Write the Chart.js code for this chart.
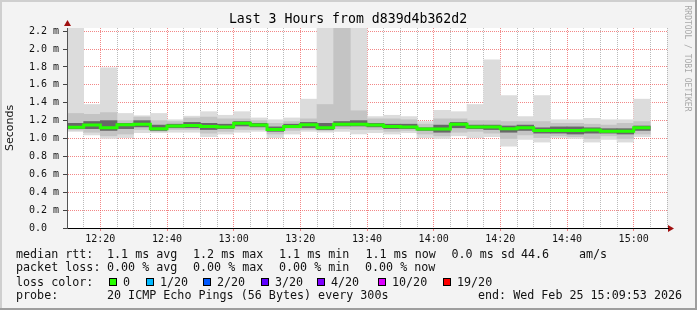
<!DOCTYPE html>
<html>
<head>
<meta charset="utf-8">
<script src="https://cdn.jsdelivr.net/npm/chart.js"></script>
<style>
  html, body { margin: 0; padding: 0; background: #f3f3f3; }
  canvas { display: block; }
</style>
</head>
<body>
<canvas id="smoke" width="697" height="310"></canvas>
<script>
// 5 minute slots (start time of each step)
const slots = ['12:10', '12:15', '12:20', '12:25', '12:30', '12:35', '12:40', '12:45', '12:50', '12:55',
  '13:00', '13:05', '13:10', '13:15', '13:20', '13:25', '13:30', '13:35', '13:40', '13:45',
  '13:50', '13:55', '14:00', '14:05', '14:10', '14:15', '14:20', '14:25', '14:30', '14:35',
  '14:40', '14:45', '14:50', '14:55', '15:00']

// rtt in ms (outer smoke -> inner smoke -> median)
const maxRtt = [2.6, 1.38, 1.79, 1.28, 1.255, 1.28, 1.21, 1.25, 1.30, 1.26, 1.30, 1.23, 1.21, 1.23, 1.44,
  2.6, 2.6, 2.6, 1.245, 1.26, 1.245, 1.19, 1.315, 1.30, 1.38, 1.88, 1.48, 1.245, 1.48, 1.21,
  1.21, 1.225, 1.21, 1.21, 1.44]
const hi2 = [1.28, 1.27, 1.29, 1.20, 1.24, 1.20, 1.19, 1.23, 1.24, 1.22, 1.22, 1.20, 1.17, 1.19, 1.22,
  1.38, 2.6, 1.31, 1.22, 1.22, 1.21, 1.16, 1.22, 1.22, 1.20, 1.20, 1.19, 1.19, 1.19, 1.17,
  1.17, 1.16, 1.15, 1.17, 1.19]
const hi3 = [1.17, 1.19, 1.20, 1.17, 1.20, 1.15, 1.16, 1.18, 1.17, 1.16, 1.19, 1.17, 1.13, 1.16, 1.18,
  1.17, 1.19, 1.20, 1.17, 1.16, 1.16, 1.12, 1.15, 1.18, 1.15, 1.15, 1.14, 1.15, 1.12, 1.13,
  1.13, 1.12, 1.11, 1.11, 1.14]
const median = [1.125, 1.15, 1.12, 1.155, 1.16, 1.11, 1.14, 1.145, 1.135, 1.13, 1.17, 1.15, 1.10, 1.135, 1.155,
  1.12, 1.16, 1.16, 1.15, 1.135, 1.13, 1.105, 1.105, 1.16, 1.13, 1.13, 1.11, 1.12, 1.09, 1.09,
  1.09, 1.095, 1.08, 1.08, 1.12]
const lo3 = [1.11, 1.11, 1.09, 1.11, 1.13, 1.09, 1.12, 1.12, 1.10, 1.11, 1.14, 1.13, 1.08, 1.12, 1.12,
  1.10, 1.14, 1.14, 1.13, 1.11, 1.11, 1.09, 1.07, 1.12, 1.11, 1.10, 1.07, 1.09, 1.06, 1.06,
  1.05, 1.06, 1.06, 1.05, 1.09]
const lo2 = [1.095, 1.07, 1.03, 1.05, 1.10, 1.08, 1.10, 1.10, 1.06, 1.08, 1.10, 1.10, 1.05, 1.09, 1.10,
  1.09, 1.11, 1.10, 1.10, 1.08, 1.09, 1.05, 1.03, 1.07, 1.08, 1.06, 1.00, 1.04, 1.01, 1.03,
  1.02, 1.00, 1.03, 1.00, 1.05]
const minRtt = [1.08, 1.04, 1.00, 1.01, 1.065, 1.065, 1.07, 1.07, 1.02, 1.05, 1.07, 1.08, 1.01, 1.05, 1.08,
  1.07, 1.08, 1.05, 1.065, 1.05, 1.065, 1.01, 1.00, 1.03, 1.01, 1.02, 0.915, 0.99, 0.96, 1.01,
  1.00, 0.96, 0.99, 0.96, 1.02]

// y axis ticks (ms), labelled every 0.2
const yTicks = [0, 0.2, 0.4, 0.6, 0.8, 1.0, 1.2, 1.4, 1.6, 1.8, 2.0, 2.2]

const lossColors = [
  ['0', '#26ff00'], ['1/20', '#00b8ff'], ['2/20', '#0059ff'], ['3/20', '#5e00ff'],
  ['4/20', '#7e00ff'], ['10/20', '#dd00ff'], ['19/20', '#ff0000'],
]

const toMin = t => { const [h, m] = t.split(':').map(Number); return h * 60 + m }
const t0 = toMin(slots[0])
const step = toMin(slots[1]) - t0
const xStart = i => toMin(slots[i]) - t0
const band = (lo, hi) => slots.map((s, i) => ({ x: xStart(i) + step / 2, y: [lo[i], hi[i]] }))
const medianPts = slots.map((s, i) => ({ x: xStart(i), y: median[i] }))
medianPts.push({ x: xStart(slots.length - 1) + step, y: median[median.length - 1] })

const MONO = 'DejaVu Sans Mono'
const MGRID = 'rgba(235, 70, 70, 0.65)'
const GRID = 'rgba(140, 140, 140, 0.6)'
const isMajorY = v => yTicks.some(t => Math.abs(t - v) < 1e-6)

const smokeBar = (data, color, order) => ({
  type: 'bar', data, order,
  backgroundColor: color, borderWidth: 0, borderSkipped: false,
  grouped: false, barPercentage: 1, categoryPercentage: 1,
})

// background, frame and all the rrdtool text
const rrdDecor = {
  id: 'rrdDecor',
  beforeDraw(chart) {
    const { ctx, chartArea: a, width: w, height: h } = chart
    ctx.save()
    ctx.fillStyle = '#f3f3f3'
    ctx.fillRect(0, 0, w, h)
    ctx.fillStyle = '#cfcfcf'
    ctx.fillRect(0, 0, w, 2)
    ctx.fillRect(0, 0, 2, h)
    ctx.fillStyle = '#9e9e9e'
    ctx.fillRect(0, h - 2, w, 2)
    ctx.fillRect(w - 2, 0, 2, h)
    ctx.fillStyle = '#ffffff'
    ctx.fillRect(a.left, a.top, a.right - a.left, a.bottom - a.top)
    ctx.restore()
  },
  afterDraw(chart) {
    const { ctx, chartArea: a } = chart
    ctx.save()
    ctx.fillStyle = '#000'
    ctx.textBaseline = 'middle'
    ctx.font = `13.2px ${MONO}`
    ctx.textAlign = 'center'
    ctx.fillText('Last 3 Hours from d839d4b362d2', 348, 19.5)

    // watermark
    ctx.save()
    ctx.translate(687, 58.5)
    ctx.rotate(Math.PI / 2)
    ctx.fillStyle = '#a8a8a8'
    ctx.font = `8px ${MONO}`
    ctx.fillText('RRDTOOL / TOBI OETIKER', 0, 0)
    ctx.restore()

    // axis arrows
    ctx.fillStyle = '#a01010'
    ctx.beginPath()
    ctx.moveTo(a.right + 1, a.bottom - 3)
    ctx.lineTo(a.right + 7, a.bottom + 0.5)
    ctx.lineTo(a.right + 1, a.bottom + 4)
    ctx.fill()
    ctx.beginPath()
    ctx.moveTo(a.left - 3, a.top - 2)
    ctx.lineTo(a.left + 0.5, a.top - 8)
    ctx.lineTo(a.left + 4, a.top - 2)
    ctx.fill()
    ctx.strokeStyle = '#000'
    ctx.lineWidth = 1
    ctx.beginPath()
    ctx.moveTo(a.right, a.bottom + 0.5)
    ctx.lineTo(a.right + 2, a.bottom + 0.5)
    ctx.stroke()

    // legend
    ctx.fillStyle = '#111'
    ctx.textAlign = 'left'
    ctx.font = `11.7px ${MONO}`
    const rows = [
      [254.5, [[16, 'median rtt:'], [107, '1.1 ms avg'], [193, '1.2 ms max'], [279, '1.1 ms min'],
        [365.5, '1.1 ms now'], [451.5, '0.0 ms sd'], [521, '44.6'], [579, 'am/s']]],
      [268, [[16, 'packet loss:'], [107, '0.00 % avg'], [193, '0.00 % max'], [279, '0.00 % min'],
        [365, '0.00 % now']]],
      [282.5, [[16, 'loss color:']]],
      [296, [[16, 'probe:'], [107, '20 ICMP Echo Pings (56 Bytes) every 300s'],
        [478, 'end: Wed Feb 25 15:09:53 2026']]],
    ]
    rows.forEach(([y, parts]) => parts.forEach(([x, t]) => ctx.fillText(t, x, y)))

    const boxX = [109, 146, 203, 261, 317, 378, 443]
    lossColors.forEach(([label, color], i) => {
      ctx.fillStyle = color
      ctx.fillRect(boxX[i], 278, 8, 8)
      ctx.strokeStyle = '#000'
      ctx.strokeRect(boxX[i] + 0.5, 278.5, 7, 7)
      ctx.fillStyle = '#111'
      ctx.fillText(label, boxX[i] + 14, 282.5)
    })
    ctx.restore()
  },
}

const ctxSmoke = document.getElementById('smoke').getContext('2d')

const configSmoke = {
  type: 'bar',
  data: {
    datasets: [
      {
        type: 'line',
        data: medianPts,
        order: 0,
        borderColor: '#26ff00',
        borderWidth: 3,
        borderCapStyle: 'butt',
        stepped: 'before',
        pointRadius: 0,
        fill: false,
      },
      smokeBar(band(lo3, hi3), '#686868', 1),
      smokeBar(band(lo2, hi2), '#c4c4c4', 2),
      smokeBar(band(minRtt, maxRtt), '#dcdcdc', 3),
    ],
  },
  options: {
    responsive: false,
    animation: false,
    events: [],
    layout: { padding: { left: 0, top: 28, right: 30, bottom: 0 } },
    plugins: { legend: { display: false }, tooltip: { enabled: false } },
    scales: {
      x: {
        type: 'linear',
        min: 0,
        max: 180,
        offset: false,
        afterFit: s => { s.height = 82 },
        grid: {
          offset: false,
          color: c => ((t0 + c.tick.value) % 20 === 0 ? MGRID : GRID),
          tickLength: 3,
          tickColor: c => ((t0 + c.tick.value) % 20 === 0 ? MGRID : 'transparent'),
        },
        border: { display: true, color: '#000', width: 1, z: 1, dash: [1, 1] },
        ticks: {
          stepSize: step,
          autoSkip: false,
          maxRotation: 0,
          padding: 2,
          color: '#111',
          font: { family: MONO, size: 10 },
          callback: v => {
            const m = t0 + v
            if (m % 20 !== 0) return ''
            return Math.floor(m / 60) + ':' + String(m % 60).padStart(2, '0')
          },
        },
      },
      y: {
        min: 0,
        max: 2.235,
        afterFit: s => { s.width = 67 },
        grid: {
          color: c => (isMajorY(c.tick.value) ? MGRID : GRID),
          tickLength: 4,
          tickColor: c => (isMajorY(c.tick.value) ? '#444' : 'transparent'),
        },
        border: { display: true, color: '#555', width: 1, z: 1, dash: [1, 1] },
        ticks: {
          stepSize: 0.1,
          includeBounds: false,
          padding: 4,
          color: '#111',
          font: { family: MONO, size: 10 },
          callback: v => {
            if (!isMajorY(v)) return ''
            return v < 1e-6 ? '0.0  ' : v.toFixed(1) + ' m'
          },
        },
        title: {
          display: true,
          text: 'Seconds',
          color: '#111',
          font: { family: 'DejaVu Sans', size: 11 },
          padding: { top: 4, bottom: 0 },
        },
      },
    },
  },
  plugins: [rrdDecor],
}
const SmokeChart = new Chart(ctxSmoke, configSmoke)
</script>
</body>
</html>
